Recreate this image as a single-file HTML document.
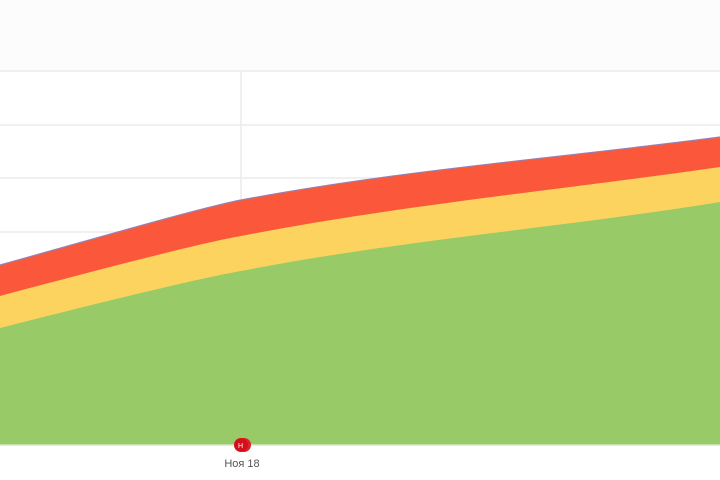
<!DOCTYPE html>
<html><head><meta charset="utf-8"><style>
html,body{margin:0;padding:0;background:#fff;width:720px;height:480px;overflow:hidden}
svg{display:block}
</style></head><body>
<svg width="720" height="480" viewBox="0 0 720 480" xmlns="http://www.w3.org/2000/svg">
<rect x="0" y="0" width="720" height="70" fill="#fcfcfc"/>
<g stroke="#ececec" stroke-width="1.5">
<line x1="0" y1="71" x2="720" y2="71"/>
<line x1="0" y1="125" x2="720" y2="125"/>
<line x1="0" y1="178" x2="720" y2="178"/>
<line x1="0" y1="232" x2="720" y2="232"/>
<line x1="241" y1="71" x2="241" y2="445"/>
</g>
<path d="M0,265 C90,240 200,208 241,200 C400,170 560,158 720,137 L720,445 L0,445 Z" fill="#fb583b"/>
<path d="M0,265 C90,240 200,208 241,200 C400,170 560,158 720,137" fill="none" stroke="#9a7fb0" stroke-width="1.2"/>
<path d="M0,296 C90,272 200,243 241,236 C400,205 560,190 720,167 L720,445 L0,445 Z" fill="#fdd35f"/>
<path d="M0,328 C90,305 200,278 241,271 C400,240 560,228 720,202 L720,445 L0,445 Z" fill="#98ca67"/>
<line x1="0" y1="445" x2="720" y2="445" stroke="#d6e9c4" stroke-width="1.5"/>
<g transform="translate(241,445)">
<circle cx="3" cy="0" r="7" fill="#e0202a"/>
<circle cx="0" cy="0" r="7" fill="#d3101b"/>
<text x="-0.5" y="3" font-family="Liberation Sans, sans-serif" font-size="7" fill="#fff" text-anchor="middle">Н</text>
</g>
<text x="242" y="467" font-family="'Liberation Sans', sans-serif" font-size="11" fill="#555" text-anchor="middle">Ноя 18</text>
</svg>
</body></html>
